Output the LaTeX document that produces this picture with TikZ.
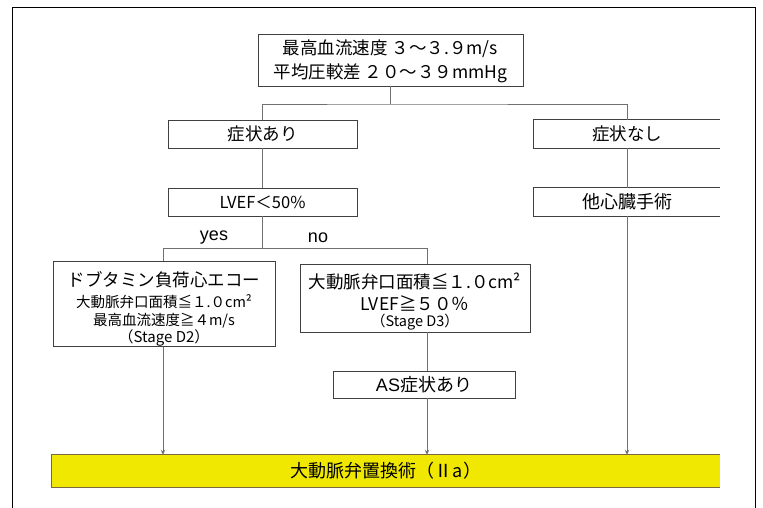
\documentclass[tikz,border=0pt]{standalone}
\usepackage{fontspec}
\setmainfont{Noto Sans CJK JP}
\newfontfamily\latinfont{Liberation Sans}
\usetikzlibrary{arrows.meta}
\definecolor{barY}{HTML}{F0E800}
\definecolor{barB}{HTML}{7A6840}
\definecolor{lineG}{HTML}{707070}
\definecolor{boxG}{HTML}{404040}
\newcommand{\fsz}[1]{\fontsize{#1}{#1}\selectfont}
\tikzset{
  box/.style={draw=boxG, line width=0.9pt, fill=white, align=center, inner sep=0pt, font=\fsz{17.5}},
  openbox/.style={align=center, inner sep=0pt, font=\fsz{17.5}},
  conn/.style={draw=lineG, line width=0.7pt},
  arr/.style={conn, -{Stealth[length=5pt,width=4.5pt]}},
  lbl/.style={font=\latinfont\fsz{18}, inner sep=1pt},
}
\begin{document}
\begin{tikzpicture}[x=1pt,y=-1pt]
\useasboundingbox (0,0) rectangle (763,508);
% outer frame
\draw[black, line width=0.8pt] (12,508) -- (12,7) -- (755,7) -- (755,508);

% nodes
\node[box, minimum width=265pt, minimum height=52pt] (top) at (390.5,60) {\rule{0pt}{18pt}最高血流速度 ３～３.９m/s\\[5pt]平均圧較差 ２０～３９mmHg};
\node[box, minimum width=189pt, minimum height=28pt] (s1) at (262.5,134) {症状あり};
\node[openbox, minimum width=186pt, minimum height=28pt] (s2) at (627,134) {症状なし};
\node[box, font=\fsz{16.5}, minimum width=189pt, minimum height=28pt] (lv) at (262.5,202) {LVEF＜50\%};
\node[openbox, font=\fsz{18}, minimum width=186pt, minimum height=28pt] (oh) at (627,202) {他心臓手術};
\node[box, minimum width=222pt, minimum height=83pt] (db) at (164,304)
  {\rule{0pt}{25pt}ドブタミン負荷心エコー\\[4pt]{\fsz{14.5}大動脈弁口面積≦１.０cm²}\\[0pt]{\fsz{14.5}最高血流速度≧４m/s}\\[0pt]{\fsz{15}（Stage D2）}};
\node[box, minimum width=230pt, minimum height=68pt] (av) at (415,298)
  {\rule{0pt}{23pt}大動脈弁口面積≦１.０cm²\\[4pt]LVEF≧５０％\\[-1pt]{\fsz{14.5}（Stage D3）}};
\node[box, font=\fsz{18}, minimum width=182pt, minimum height=27pt] (as) at (424,384.5) {{\latinfont AS}症状あり};
\node[openbox, fill=barY, font=\fsz{18}, minimum width=668pt, minimum height=32pt] (bar) at (386,471) {大動脈弁置換術（Ⅱa）};
\draw[boxG, line width=0.9pt] (s2.north east) -- (s2.north west) -- (s2.south west) -- (s2.south east);
\draw[boxG, line width=0.9pt] (oh.north east) -- (oh.north west) -- (oh.south west) -- (oh.south east);
\draw[barB, line width=1.3pt] (bar.north east) -- (bar.north west) -- (bar.south west) -- (bar.south east);

% junctions
\coordinate (j1) at (390.5,104);
\coordinate (j2) at (262.5,248);
\coordinate (nl) at (163,248);
\coordinate (nr) at (427,248);

% connectors
\draw[conn] (top.south) -- (j1);
\draw[conn] (s1.north) |- (j1) -| (s2.north);
\draw[conn] (s1.south) -- (lv.north);
\draw[conn] (s2.south) -- (oh.north);
\draw[conn] (lv.south) -- (j2);
\draw[conn] (nl) -- (nr);
\draw[conn] (nl) -- (nl |- db.north);
\draw[conn] (nr) -- (nr |- av.north);
\draw[conn] (nr |- av.south) -- (nr |- as.north);
\draw[arr] (nl |- db.south) -- (nl |- bar.north);
\draw[arr] (nr |- as.south) -- (nr |- bar.north);
\draw[arr] (oh.south) -- (oh.south |- bar.north);

% labels
\node[lbl] (yes) at (214,238) {yes};
\node[lbl] (no) at (318,238) {no};
\end{tikzpicture}
\end{document}
